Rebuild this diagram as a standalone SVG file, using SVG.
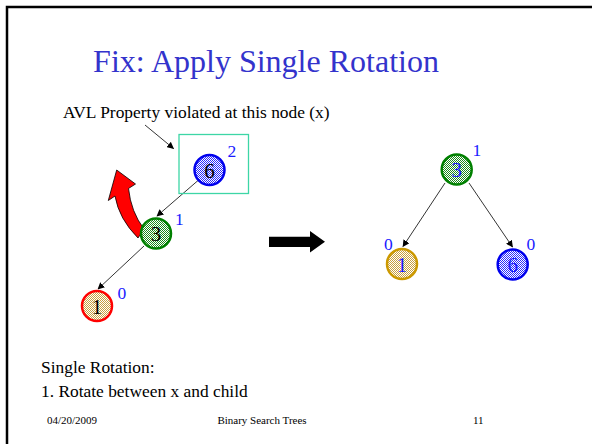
<svg xmlns="http://www.w3.org/2000/svg" width="592" height="444" viewBox="0 0 592 444" font-family="'Liberation Serif', 'Times New Roman', serif">
<defs>
<style>
text{font-family:"Liberation Serif","Times New Roman",serif}
.edge{stroke:#000;stroke-width:0.8;fill:none;marker-end:url(#ah)}
.num{font-size:21px;text-anchor:middle}
.bal{font-size:17.5px;fill:#1a1aff}
.body{font-size:17.4px;fill:#000}
.foot{font-size:11px;fill:#000}
</style>
<marker id="ah" viewBox="0 0 10 10" refX="9" refY="5" markerWidth="7" markerHeight="7" orient="auto" markerUnits="userSpaceOnUse">
<path d="M0,0 L10,5 L0,10 z" fill="#000"/>
</marker>
<pattern id="pBlue" width="2" height="2" patternUnits="userSpaceOnUse">
<rect width="2" height="2" fill="#ffffff"/><rect width="1" height="1" fill="#2a2aff"/><rect x="1" y="1" width="1" height="1" fill="#2a2aff"/>
</pattern>
<pattern id="pGreen" width="2" height="2" patternUnits="userSpaceOnUse">
<rect width="2" height="2" fill="#ffffff"/><rect width="1" height="1" fill="#1c8a1c"/><rect x="1" y="1" width="1" height="1" fill="#1c8a1c"/>
</pattern>
<pattern id="pTan" width="2" height="2" patternUnits="userSpaceOnUse">
<rect width="2" height="2" fill="#ffffff"/><rect width="1" height="1" fill="#c9a040"/><rect x="1" y="1" width="1" height="1" fill="#c9a040"/>
</pattern>
</defs>
<rect width="592" height="444" fill="#fff"/>
<rect x="7" y="7" width="620" height="470" fill="none" stroke="#000" stroke-width="2.5"/>
<text x="266" y="72" font-size="32" fill="#3333cc" text-anchor="middle">Fix: Apply Single Rotation</text>
<text class="body" x="63" y="118">AVL Property violated at this node (x)</text>
<text class="body" x="41" y="373">Single Rotation:</text>
<text class="body" x="41" y="397">1. Rotate between x and child</text>
<text class="foot" x="47" y="424">04/20/2009</text>
<text class="foot" x="262" y="424" text-anchor="middle">Binary Search Trees</text>
<text class="foot" x="473" y="424">11</text>

<g id="connectors">
<line class="edge" x1="145" y1="125" x2="173.5" y2="148.5"/>
<line class="edge" x1="198" y1="180.5" x2="157" y2="216"/>
<line class="edge" x1="144" y1="246" x2="98" y2="289"/>
<line class="edge" x1="445" y1="183" x2="403" y2="246.5"/>
<line class="edge" x1="469" y1="183" x2="512.5" y2="247"/>
</g>

<g id="highlight-box">
<rect x="179" y="134.5" width="69.5" height="59" fill="none" stroke="#3dd6a6" stroke-width="1.3"/>
</g>

<g id="rotation-arrow">
<path d="M116.7,170 L135.5,184 L128.5,188.5 Q131,212 144,229 L138,238 Q119,219 115,196 L108.3,200.5 Z" fill="#ff0000" stroke="#000" stroke-width="0.8" stroke-linejoin="miter"/>
</g>

<g id="transform-arrow">
<path d="M269,236.8 L310,236.8 L310,231 L325,241.8 L310,252.5 L310,247 L269,247 Z" fill="#000"/>
</g>

<g id="L6">
<circle cx="209.5" cy="170" r="15" fill="url(#pBlue)" stroke="#0000ee" stroke-width="2.5"/>
<text class="num" x="209.5" y="177.5" fill="#000">6</text>
<text class="bal" x="227.5" y="157">2</text>
</g>
<g id="L3">
<circle cx="156" cy="233.5" r="15" fill="url(#pGreen)" stroke="#008000" stroke-width="2.5"/>
<text class="num" x="156" y="241" fill="#000">3</text>
<text class="bal" x="175" y="225">1</text>
</g>
<g id="L1">
<circle cx="97" cy="306" r="15" fill="url(#pTan)" stroke="#ff0000" stroke-width="2.5"/>
<text class="num" x="97" y="313.5" fill="#000">1</text>
<text class="bal" x="117.5" y="299">0</text>
</g>

<g id="R3">
<circle cx="456.7" cy="169.5" r="15" fill="url(#pGreen)" stroke="#008000" stroke-width="2.5"/>
<text class="num" x="456.7" y="177" fill="#1a1aff">3</text>
<text class="bal" x="472.5" y="156">1</text>
</g>
<g id="R1">
<circle cx="402" cy="264" r="15" fill="url(#pTan)" stroke="#cc9900" stroke-width="2.5"/>
<text class="num" x="402" y="271.5" fill="#1a1aff">1</text>
<text class="bal" x="384" y="250">0</text>
</g>
<g id="R6">
<circle cx="512.7" cy="264.5" r="15" fill="url(#pBlue)" stroke="#0000ee" stroke-width="2.5"/>
<text class="num" x="512.7" y="272" fill="#1a1aff">6</text>
<text class="bal" x="526.5" y="250">0</text>
</g>
</svg>
